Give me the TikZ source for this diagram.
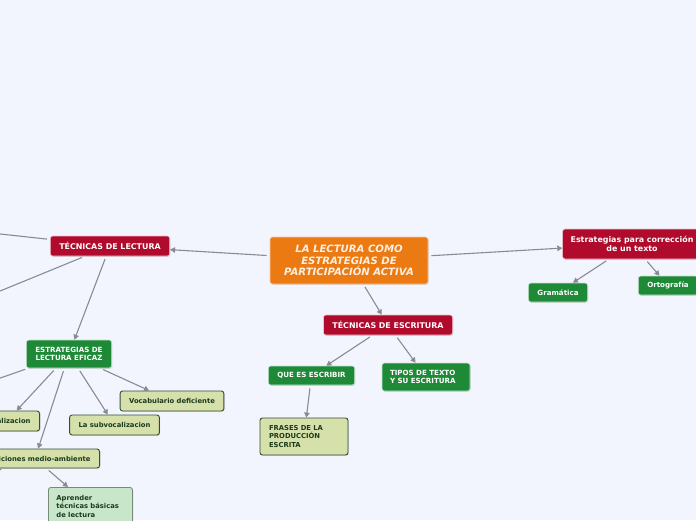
\documentclass[tikz,border=0pt]{standalone}
\usepackage{fontspec}
\newfontfamily\mapfont{DejaVu Sans}
\usetikzlibrary{arrows.meta,shadows}
\definecolor{mapbg}{HTML}{F2F5FE}
\definecolor{maporange}{HTML}{EC7A12}
\definecolor{mapred}{HTML}{B00B2C}
\definecolor{mapgreen}{HTML}{1E8A38}
\definecolor{mapleaf}{HTML}{D6E0AA}
\definecolor{mapnote}{HTML}{C8E6CA}
\definecolor{mapdark}{HTML}{1C3A1C}
\definecolor{mapline}{HTML}{8A8A94}
\tikzset{
	box/.style={rounded corners=2.5pt, inner xsep=9pt, inner ysep=3pt, line width=0.6pt,
		drop shadow={shadow xshift=0.8pt, shadow yshift=-0.8pt, opacity=0.25}},
	topic/.style={box, fill=maporange, draw=maporange!40, text=white!88!maporange, align=center,
		minimum width=158pt, minimum height=47pt, font=\mapfont\bfseries\itshape\fontsize{10.1}{11.8}\selectfont},
	redbox/.style={box, fill=mapred, draw=white!75!mapred, text=white, align=center, minimum height=20pt,
		font=\mapfont\bfseries\fontsize{7.9}{9.3}\selectfont},
	greenbox/.style={box, fill=mapgreen, draw=white!75!mapgreen, text=white, minimum height=19pt,
		font=\mapfont\bfseries\fontsize{7.1}{8.5}\selectfont},
	leafbox/.style={box, fill=mapleaf, draw=mapdark!90, line width=0.9pt, text=mapdark, minimum height=20pt,
		font=\mapfont\bfseries\fontsize{6.8}{8.5}\selectfont},
	notebox/.style={leafbox, fill=mapnote, draw=mapdark!60},
	link/.style={draw=mapline, line width=1.1pt, -{Triangle[length=5pt,width=5.5pt]}, shorten <=3pt},
	stub/.style={draw=mapline, line width=1.1pt, shorten <=3pt},
}
\begin{document}
\begin{tikzpicture}[x=1pt,y=-1pt]
	\useasboundingbox (0,0) rectangle (696,520);
	\fill[mapbg] (0,0) rectangle (696,520);
	\clip (0,0) rectangle (696,520);
	\node[topic] (central) at (349,260.5) {LA LECTURA COMO\\ESTRATEGIAS DE\\PARTICIPACIÓN ACTIVA};
	\node[redbox] (lectura) at (110,246) {TÉCNICAS DE LECTURA};
	\node[redbox] (escritura) at (388,325) {TÉCNICAS DE ESCRITURA};
	\node[redbox, minimum height=30pt, inner xsep=8pt] (correccion) at (632,244) {Estrategias para corrección\\de un texto};
	\node[greenbox] (gramatica) at (558,292.5) {Gramática};
	\node[greenbox] (ortografia) at (668,285.5) {Ortografía};
	\node[greenbox] (quees) at (311.5,375.5) {QUE ES ESCRIBIR};
	\node[greenbox, text width=72pt, align=left, minimum height=28pt, inner xsep=8pt] (tipos) at (426,377) {TIPOS DE TEXTO\\Y SU ESCRITURA};
	\node[greenbox, align=center, minimum height=28pt] (eficaz) at (69,354) {ESTRATEGIAS DE\\LECTURA EFICAZ};
	\node[leafbox, text width=70pt, align=left, minimum height=37pt, inner xsep=9pt] (frases) at (304,436.5) {FRASES DE LA\\PRODUCCIÓN\\ESCRITA};
	\node[leafbox] (vocabulario) at (172,401) {Vocabulario deficiente};
	\node[leafbox] (subvocal) at (114.5,425) {La subvocalizacion};
	\node[leafbox, anchor=east] (vocal) at (40,421) {Vocalizacion};
	\node[leafbox, anchor=east, minimum height=19pt] (medio) at (100,458.5) {Condiciones medio-ambiente};
	\node[notebox, text width=68pt, align=left, minimum height=38pt, anchor=north west, inner xsep=8pt, inner ysep=6pt] (aprender) at (48,487) {Aprender\\técnicas básicas\\de lectura};
	\coordinate (offa) at (-100,223);
	\coordinate (offb) at (-100,332);
	\coordinate (offc) at (-100,413);
	\coordinate (offd) at (-100,502);
	\draw[link] (central) -- (lectura);
	\draw[link] (central) -- (correccion);
	\draw[link] (central) -- (escritura);
	\draw[link] (correccion) -- (gramatica);
	\draw[link] (correccion) -- (ortografia);
	\draw[link] (escritura) -- (quees);
	\draw[link] (escritura) -- (tipos);
	\draw[link] (quees) -- (frases);
	\draw[link] (lectura) -- (eficaz);
	\draw[link] (eficaz) -- (vocabulario);
	\draw[link] (eficaz) -- (subvocal);
	\draw[link] (eficaz) -- (vocal);
	\draw[link] (eficaz) -- (medio);
	\draw[link] (medio) -- (aprender);
	\draw[stub] (lectura) -- (offa);
	\draw[stub] (lectura) -- (offb);
	\draw[stub] (eficaz) -- (offc);
	\draw[stub] (medio) -- (offd);
\end{tikzpicture}
\end{document}
